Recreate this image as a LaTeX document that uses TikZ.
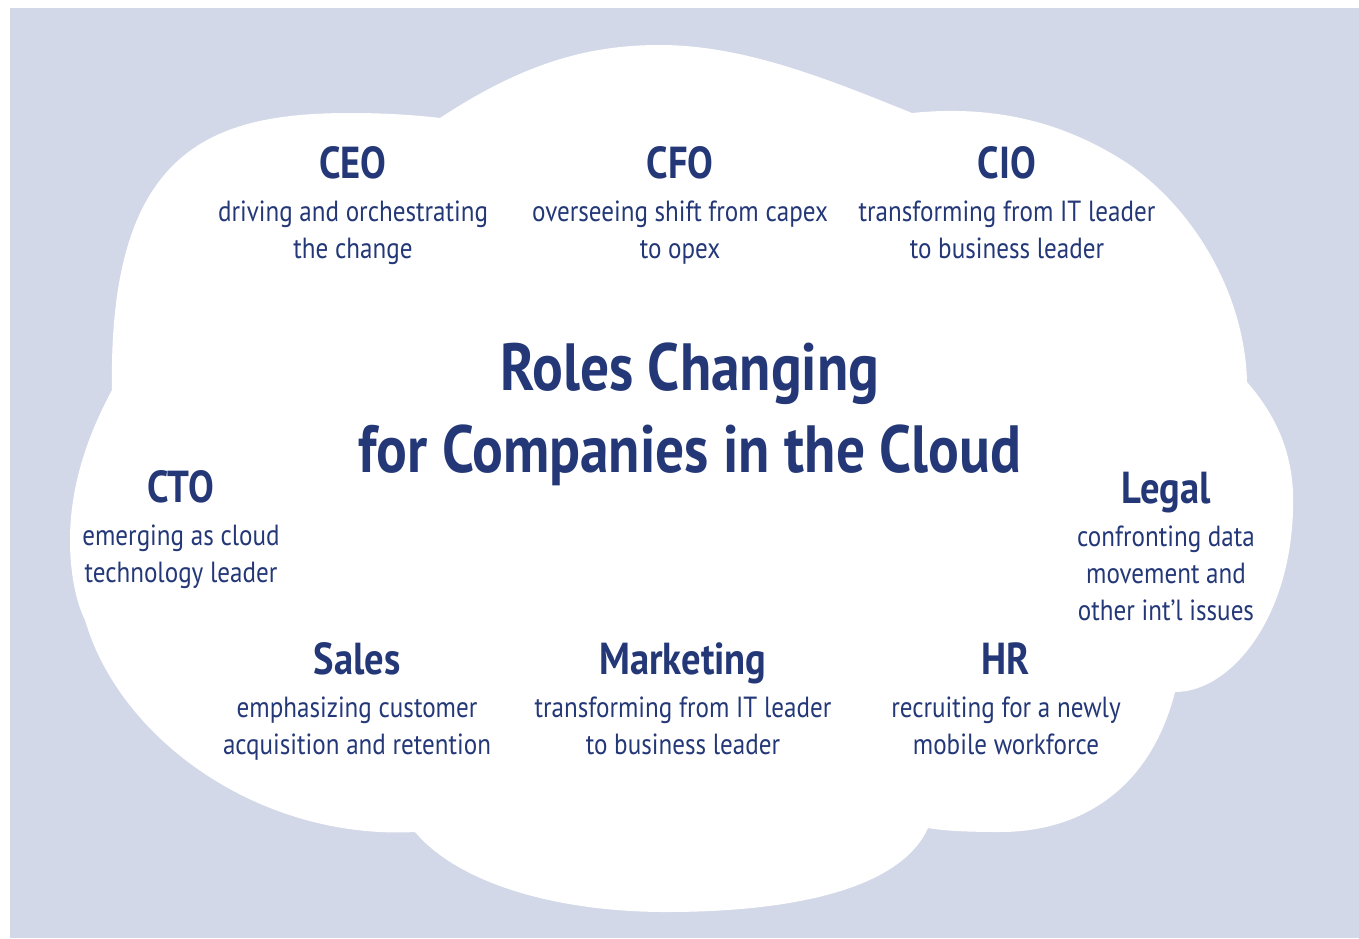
\documentclass[tikz,border=0pt]{standalone}
\usepackage{fontspec}
\setmainfont[FakeStretch=0.86]{PT Sans}
\usetikzlibrary{positioning}
\definecolor{cloudbg}{RGB}{211,216,232}
\definecolor{rolenavy}{RGB}{36,56,120}
\tikzset{ h/.style = { rectangle % role heading
        , anchor = base
        , inner sep = 0pt
        , text = rolenavy
        , font = \bfseries\fontsize{25.5}{30}\selectfont
        }
        , t/.style = { rectangle % role text
        , align = center
        , inner sep = 0pt
        , text = rolenavy
        , font = \fontsize{16.6}{21}\selectfont
        }
        }

\begin{document}
\begin{tikzpicture}[x=0.02cm, y=-0.02cm,
        title_style/.style={anchor=base,align=center,inner sep=0pt,text=rolenavy,font=\bfseries\fontsize{38}{46.6}\selectfont},
        cloud_style/.style={fill=white,draw=none}]
        \useasboundingbox (0,0) rectangle (1359,938);
        \fill [cloudbg] (10,8) rectangle (1359,938);
        % cloud
        \path [cloud_style] (440,118)
            .. controls (525,62) and (590,45) .. (660,45)
            .. controls (745,45) and (830,80) .. (912,113)
            .. controls (1000,104) and (1070,125) .. (1130,165)
            .. controls (1200,215) and (1245,300) .. (1247,382)
            .. controls (1280,420) and (1295,460) .. (1293,510)
            .. controls (1290,620) and (1230,692) .. (1175,692)
            .. controls (1150,790) and (1080,832) .. (1000,832)
            .. controls (970,832) and (945,831) .. (928,828)
            .. controls (900,890) and (790,912) .. (666,912)
            .. controls (560,912) and (460,885) .. (415,832)
            .. controls (260,840) and (120,740) .. (85,620)
            .. controls (75,600) and (70,570) .. (70,540)
            .. controls (70,490) and (85,440) .. (112,390)
            .. controls (108,150) and (210,113) .. (350,113)
            .. controls (385,113) and (415,115) .. cycle;

        \node [title_style] (title) at (690,472) {Roles Changing\\for Companies in the Cloud};

        \node [h] (ceo) at (353,178) {CEO};
        \node [t, below=13pt of ceo.base] (ceo_txt) {driving and orchestrating\\the change};
        \node [h] (cfo) at (680,178) {CFO};
        \node [t, below=13pt of cfo.base] (cfo_txt) {overseeing shift from capex\\to opex};
        \node [h] (cio) at (1007,178) {CIO};
        \node [t, below=13pt of cio.base] (cio_txt) {transforming from IT leader\\to business leader};
        \node [h] (cto) at (181,502) {CTO};
        \node [t, below=13pt of cto.base] (cto_txt) {emerging as cloud\\technology leader};
        \node [h] (legal) at (1166,503) {Legal};
        \node [t, below=13pt of legal.base] (legal_txt) {confronting data\\movement and\\other int’l issues};
        \node [h] (sales) at (357,674) {Sales};
        \node [t, below=13pt of sales.base] (sales_txt) {emphasizing customer\\acquisition and retention};
        \node [h] (mkt) at (683,674) {Marketing};
        \node [t, below=13pt of mkt.base] (mkt_txt) {transforming from IT leader\\to business leader};
        \node [h] (hr) at (1006,674) {HR};
        \node [t, below=13pt of hr.base] (hr_txt) {recruiting for a newly\\mobile workforce};
\end{tikzpicture}
\end{document}
